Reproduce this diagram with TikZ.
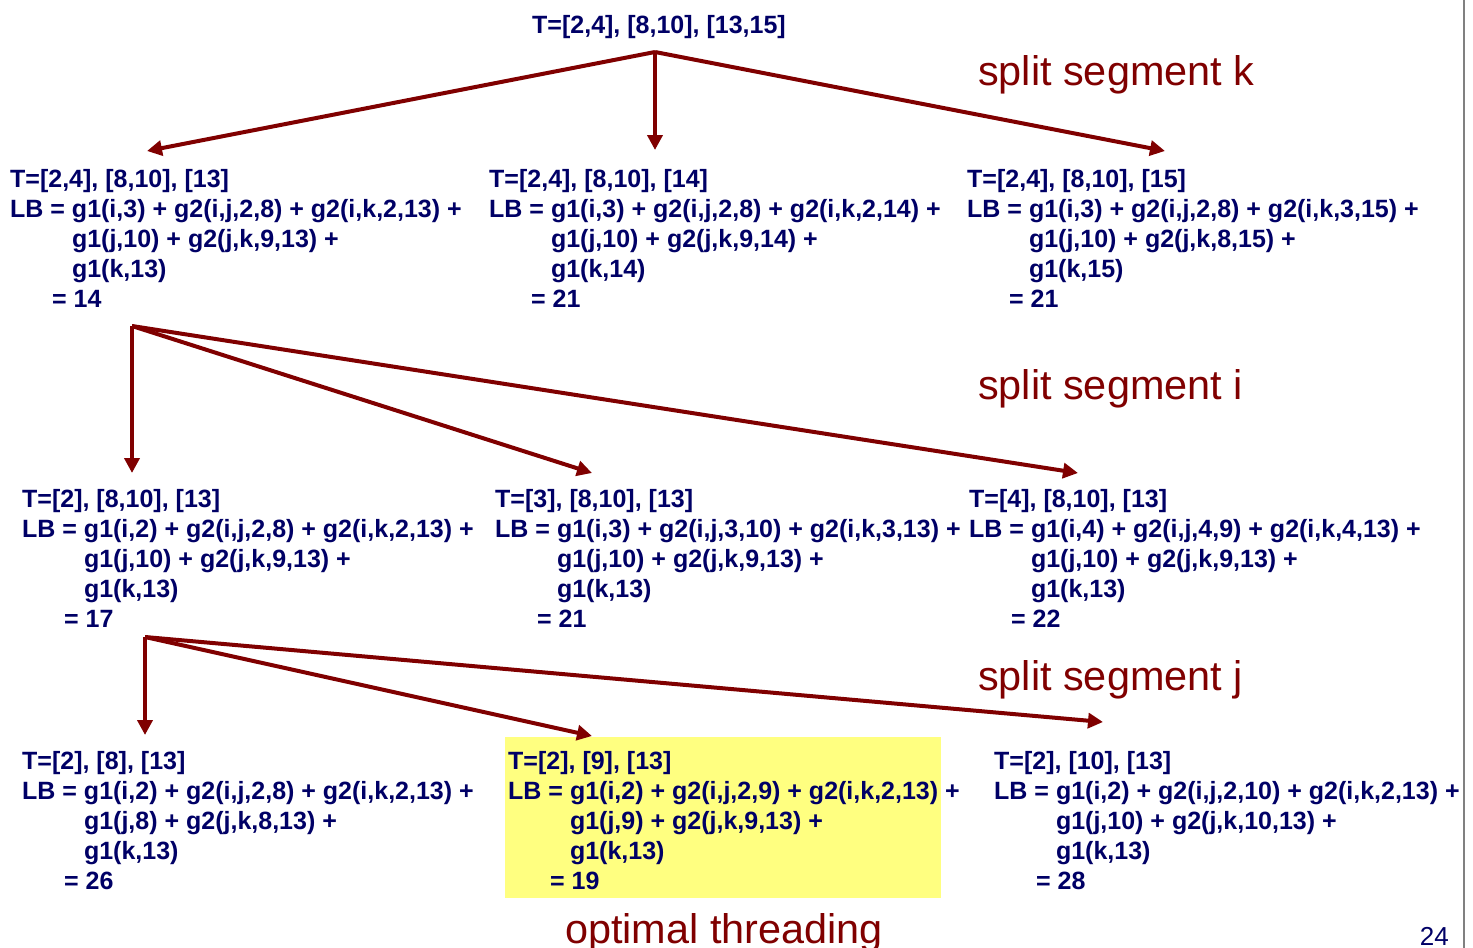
\documentclass[tikz,border=0pt]{standalone}
\usepackage{fontspec}
\setmainfont{Liberation Sans}
\usetikzlibrary{arrows.meta}
\definecolor{navy}{RGB}{0,0,102}
\definecolor{darkred}{RGB}{128,0,0}
\definecolor{hilite}{RGB}{255,255,128}
\newcommand\lbblock[5]{T=#1\\LB = #2\\\phantom{LB = }#3\\\phantom{LB = }#4\\\hspace*{42pt}= #5}
\tikzset{
  blk/.style={anchor=base west, inner sep=0pt, align=left, text=navy,
    font=\fontsize{25}{30}\selectfont\bfseries},
  conn/.style={draw=darkred, line width=4pt, -{Triangle[length=15pt,width=15pt]}},
  lbl/.style={anchor=base west, inner sep=0pt, text=darkred, font=\fontsize{41.4}{48}\selectfont}
}
\begin{document}
\begin{tikzpicture}[x=1pt,y=-1pt]
\useasboundingbox (0,0) rectangle (1473,948);
\fill[white] (0,0) rectangle (1473,948);
\draw[gray, line width=2pt] (1464,0) -- (1464,948);
\fill[hilite] (505,737) rectangle (941,898);

\node[blk, anchor=base] (root) at (659,33) {T=[2,4], [8,10], [13,15]};

% base anchor = baseline of last line (first baseline + 120)
\node[blk] (a1) at (10,307) {\lbblock{[2,4], [8,10], [13]}{g1(i,3) + g2(i,j,2,8) + g2(i,k,2,13) +}{g1(j,10) + g2(j,k,9,13) +}{g1(k,13)}{14}};
\node[blk] (a2) at (489,307) {\lbblock{[2,4], [8,10], [14]}{g1(i,3) + g2(i,j,2,8) + g2(i,k,2,14) +}{g1(j,10) + g2(j,k,9,14) +}{g1(k,14)}{21}};
\node[blk] (a3) at (967,307) {\lbblock{[2,4], [8,10], [15]}{g1(i,3) + g2(i,j,2,8) + g2(i,k,3,15) +}{g1(j,10) + g2(j,k,8,15) +}{g1(k,15)}{21}};

\node[blk] (b1) at (22,627) {\lbblock{[2], [8,10], [13]}{g1(i,2) + g2(i,j,2,8) + g2(i,k,2,13) +}{g1(j,10) + g2(j,k,9,13) +}{g1(k,13)}{17}};
\node[blk] (b2) at (495,627) {\lbblock{[3], [8,10], [13]}{g1(i,3) + g2(i,j,3,10) + g2(i,k,3,13) +}{g1(j,10) + g2(j,k,9,13) +}{g1(k,13)}{21}};
\node[blk] (b3) at (969,627) {\lbblock{[4], [8,10], [13]}{g1(i,4) + g2(i,j,4,9) + g2(i,k,4,13) +}{g1(j,10) + g2(j,k,9,13) +}{g1(k,13)}{22}};

\node[blk] (c1) at (22,889) {\lbblock{[2], [8], [13]}{g1(i,2) + g2(i,j,2,8) + g2(i,k,2,13) +}{g1(j,8) + g2(j,k,8,13) +}{g1(k,13)}{26}};
\node[blk] (c2) at (508,889) {\lbblock{[2], [9], [13]}{g1(i,2) + g2(i,j,2,9) + g2(i,k,2,13) +}{g1(j,9) + g2(j,k,9,13) +}{g1(k,13)}{19}};
\node[blk] (c3) at (994,889) {\lbblock{[2], [10], [13]}{g1(i,2) + g2(i,j,2,10) + g2(i,k,2,13) +}{g1(j,10) + g2(j,k,10,13) +}{g1(k,13)}{28}};

\coordinate (r0) at (655,52);
\coordinate (ta1) at (147,151);
\coordinate (ta2) at (655,150);
\coordinate (ta3) at (1165,151);
\coordinate (s1) at (132,326);
\coordinate (tb1) at (132,473);
\coordinate (tb2) at (592,473);
\coordinate (tb3) at (1078,473);
\coordinate (s2) at (145,637);
\coordinate (tc1) at (145,735);
\coordinate (tc2) at (592,736);
\coordinate (tc3) at (1103,722);

\draw[conn] (r0) -- (ta1);
\draw[conn] (r0) -- (ta2);
\draw[conn] (r0) -- (ta3);
\draw[conn] (s1) -- (tb1);
\draw[conn] (s1) -- (tb2);
\draw[conn] (s1) -- (tb3);
\draw[conn] (s2) -- (tc1);
\draw[conn] (s2) -- (tc2);
\draw[conn] (s2) -- (tc3);

\node[lbl] (lk) at (978,85) {split segment k};
\node[lbl] (li) at (978,399) {split segment i};
\node[lbl] (lj) at (978,690) {split segment j};
\node[lbl, anchor=base] (opt) at (724,943) {optimal threading};
\node[anchor=base east, inner sep=0pt, text=navy, font=\fontsize{26}{30}\selectfont] (pg) at (1449,945) {24};
\end{tikzpicture}
\end{document}
